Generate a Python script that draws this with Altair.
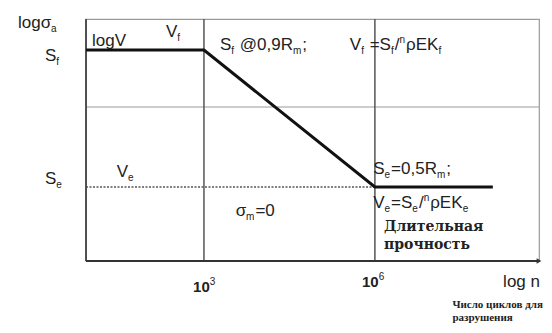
import re
import altair as alt
import pandas as pd

# ---- data (log n  vs  log sigma_a, schematic with R_m = 1000) ----
curve_logn = [0.93, 3.0, 6.0, 8.07]
curve_logs = [2.954, 2.954, 2.699, 2.699]

grid_x = [3.0, 6.0]          # 10^3 and 10^6 cycles
grid_y = [2.848]
endur_logn = [0.93, 6.0]     # dotted level of S_e
endur_logs = [2.699, 2.699]

x_domain = [0.93, 8.88]
y_domain = [2.561, 3.012]

label_text = [
    "logσ_{a}", "S_{f}", "logV", "V_{f}",
    "S_{f} @0,9R_{m};", "V_{f} =S_{f}/^{n}ρEK_{f}",
    "S_{e}", "V_{e}", "σ_{m}=0",
    "S_{e}=0,5R_{m};", "V_{e}=S_{e}/^{n}ρEK_{e}",
    "Длительная", "прочность",
    "10^{3}", "10^{6}", "log n",
    "Число циклов для", "разрушения",
]
label_x = [-0.263, 0.21, 1.035, 2.334,
           3.28, 5.56,
           0.21, 1.47, 3.56,
           5.97, 5.97,
           6.16, 6.16,
           2.81, 5.774, 8.25,
           7.36, 7.36]
label_y = [2.995, 2.934, 2.962, 2.978,
           2.954, 2.954,
           2.705, 2.718, 2.645,
           2.723, 2.660,
           2.617, 2.583,
           2.503, 2.513, 2.513,
           2.4734, 2.4492]
label_style = ["sans"] * 11 + ["serifB", "serifB", "sansB", "sansB", "sans", "serif", "serif"]

# ---- layout of text pieces (sub/superscripts) ----
W, H = 453, 242
px_per_x = W / (x_domain[1] - x_domain[0])
SIZES = {"sans": 17, "sansB": 15, "serifB": 14, "serif": 11, "sub": 10, "sup": 10}
ARIAL = {" ": .278, "S": .667, "V": .667, "R": .722, "E": .667, "K": .667, "@": 1.015,
         ",": .278, ";": .278, "=": .584, "/": .278, "ρ": .578, "σ": .6, "l": .222,
         "o": .556, "g": .556, "a": .556, "e": .556, "f": .278, "m": .833, "n": .556}


def width(s, size):
    return sum(ARIAL.get(c, .556) for c in s) * size


rows = []
for txt, x0, y0, st in zip(label_text, label_x, label_y, label_style):
    off = 0.0
    for sub, sup, plain in re.findall(r"_\{([^}]*)\}|\^\{([^}]*)\}|([^_^]+)", txt):
        if sub:
            kind, piece = "sub", sub
        elif sup:
            kind, piece = "sup", sup
        else:
            kind, piece = st, plain
        size = SIZES[kind]
        lead = len(piece) - len(piece.lstrip(" "))
        trail = len(piece) - len(piece.rstrip(" "))
        core = piece.strip(" ")
        off += width(" " * lead, size)
        rows.append({"t": core, "x": x0 + off / px_per_x, "y": y0, "kind": kind})
        off += width(core, size) + width(" " * trail, size)
        off += 1 if kind in ("sub", "sup") else 0
pieces = pd.DataFrame(rows)

xs = alt.Scale(domain=x_domain, nice=False, zero=False)
ys = alt.Scale(domain=y_domain, nice=False, zero=False)
X = lambda f: alt.X(f, type="quantitative", scale=xs, axis=None)
Y = lambda f: alt.Y(f, type="quantitative", scale=ys, axis=None)

curve_df = pd.DataFrame({"n": curve_logn, "s": curve_logs})
endur_df = pd.DataFrame({"n": endur_logn, "s": endur_logs})
vgrid = pd.DataFrame({"n": grid_x})
hgrid = pd.DataFrame({"s": grid_y})
frame = pd.DataFrame({"n0": [x_domain[0]], "n1": [x_domain[1]],
                      "s0": [y_domain[0]], "s1": [y_domain[1]]})

hgrid_l = alt.Chart(hgrid).mark_rule(color="#9a9a9a", strokeWidth=1.2).encode(y=Y("s"))
vgrid_l = alt.Chart(vgrid).mark_rule(color="#555555", strokeWidth=1.5).encode(x=X("n"))
endur_l = alt.Chart(endur_df).mark_line(color="#555555", strokeWidth=1.6,
                                        strokeDash=[2, 1.5]).encode(x=X("n"), y=Y("s"))
left_axis = alt.Chart(frame).mark_rule(color="#444444", strokeWidth=1.8).encode(
    x=X("n0"), y=Y("s0"), y2="s1")
bottom_axis = alt.Chart(frame).mark_rule(color="#333333", strokeWidth=2).encode(
    x=X("n0"), x2="n1", y=Y("s0"))
arrow = alt.Chart(frame).mark_point(shape="triangle-right", filled=True, color="#333333",
                                    size=30, opacity=1).encode(x=X("n1"), y=Y("s0"))
curve_l = alt.Chart(curve_df).mark_line(color="#111111", strokeWidth=3).encode(
    x=X("n"), y=Y("s"))


def text_layer(kind, **kw):
    return alt.Chart(pieces).transform_filter(alt.datum.kind == kind).mark_text(
        align="left", baseline="alphabetic", color="#222222", fontSize=SIZES[kind], **kw
    ).encode(x=X("x"), y=Y("y"), text="t:N")


texts = [
    text_layer("sans", font="Liberation Sans"),
    text_layer("sansB", font="Liberation Sans", fontWeight="bold"),
    text_layer("sub", font="Liberation Sans", dy=4),
    text_layer("sup", font="Liberation Sans", dy=-7),
    text_layer("serifB", font="DejaVu Serif", fontWeight="bold"),
    text_layer("serif", font="Liberation Serif", fontWeight="bold"),
]

chart = alt.layer(
    hgrid_l, vgrid_l, endur_l, left_axis, bottom_axis, arrow, curve_l, *texts
).properties(
    width=W, height=H,
    autosize=alt.AutoSizeParams(type="none"),
    padding={"left": 78, "top": 11, "right": 5, "bottom": 64},
    background="white",
).configure_view(stroke="#9a9a9a", strokeWidth=1.2)

chart.save("out.html", embed_options={"renderer": "svg", "actions": False})
